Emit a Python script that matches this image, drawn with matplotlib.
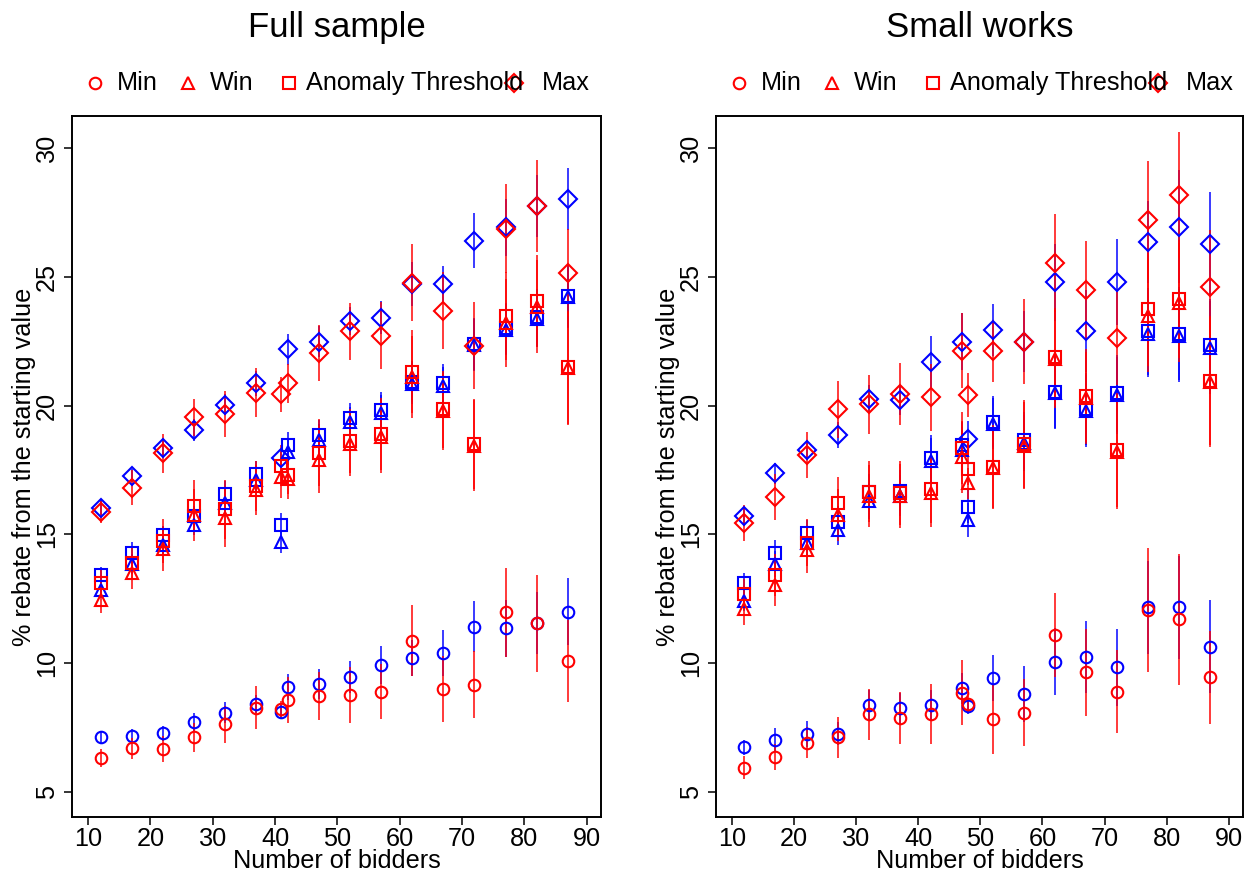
import matplotlib
matplotlib.use("Agg")
import matplotlib.pyplot as plt

plt.rcParams['font.family'] = ['Liberation Sans', 'DejaVu Sans']

# ---------------- data ----------------
x_full = [12, 17, 22, 27, 32, 37, 41, 42, 47, 52, 57, 62, 67, 72, 77, 82, 87]
x_small = [12, 17, 22, 27, 32, 37, 42, 47, 48, 52, 57, 62, 67, 72, 77, 82, 87]

x_ticks = [10, 20, 30, 40, 50, 60, 70, 80, 90]
y_ticks = [5, 10, 15, 20, 25, 30]

legend_labels = ["Min", "Win", "Anomaly Threshold", "Max"]
titles = ["Full sample", "Small works"]

# Full sample
full_blue_min = [7.12, 7.17, 7.27, 7.70, 8.07, 8.40, 8.11, 9.06, 9.19, 9.45, 9.93, 10.19, 10.38, 11.41, 11.35, 11.57, 12.00]
full_red_min = [6.30, 6.69, 6.65, 7.12, 7.62, 8.27, 8.22, 8.57, 8.72, 8.76, 8.89, 10.87, 8.99, 9.15, 11.97, 11.55, 10.09]
full_blue_min_err = [0.22, 0.25, 0.30, 0.35, 0.40, 0.35, 0.25, 0.50, 0.57, 0.62, 0.75, 0.70, 0.90, 1.00, 1.10, 1.20, 1.30]
full_red_min_err = [0.35, 0.40, 0.50, 0.57, 0.73, 0.83, 0.30, 0.90, 0.95, 1.10, 1.07, 1.37, 1.28, 1.30, 1.74, 1.88, 1.60]

full_blue_win = [12.84, 13.84, 14.59, 15.37, 16.23, 17.11, 14.72, 18.21, 18.67, 19.35, 19.70, 20.85, 20.75, 22.35, 22.95, 23.38, 24.20]
full_red_win = [12.45, 13.49, 14.42, 15.75, 15.65, 16.73, 17.22, 17.14, 17.89, 18.50, 18.80, 21.10, 19.78, 18.45, 23.20, 23.85, 21.45]
full_blue_thr = [13.42, 14.29, 14.98, 15.71, 16.56, 17.35, 15.37, 18.47, 18.86, 19.51, 19.82, 20.93, 20.87, 22.40, 23.00, 23.43, 24.27]
full_red_thr = [13.10, 13.88, 14.74, 16.10, 15.97, 16.88, 17.66, 17.31, 18.17, 18.63, 18.89, 21.32, 19.86, 18.51, 23.48, 24.07, 21.49]
full_blue_thr_err = [0.30, 0.40, 0.35, 0.40, 0.50, 0.50, 0.45, 0.50, 0.60, 0.60, 0.70, 0.80, 0.75, 1.00, 1.00, 1.10, 1.20]
full_red_thr_err = [0.50, 0.60, 0.85, 1.00, 1.15, 0.97, 0.80, 0.75, 1.30, 1.25, 1.40, 1.60, 1.50, 1.75, 1.70, 1.80, 2.20]

full_blue_max = [16.04, 17.27, 18.35, 19.06, 20.04, 20.86, 17.96, 22.19, 22.49, 23.28, 23.42, 24.73, 24.73, 26.41, 26.93, 27.75, 28.02]
full_red_max = [15.86, 16.81, 18.15, 19.54, 19.67, 20.50, 20.44, 20.87, 22.04, 22.88, 22.72, 24.78, 23.69, 22.33, 26.87, 27.76, 25.17]
full_blue_max_err = [0.30, 0.25, 0.30, 0.42, 0.40, 0.50, 0.30, 0.60, 0.60, 0.55, 0.65, 0.85, 0.70, 1.08, 1.10, 1.20, 1.20]
full_red_max_err = [0.42, 0.67, 0.75, 0.73, 0.90, 0.95, 0.68, 0.75, 1.10, 1.12, 1.30, 1.50, 1.50, 1.70, 1.72, 1.80, 1.70]

# Small works
small_blue_min = [6.73, 7.01, 7.23, 7.25, 8.37, 8.24, 8.37, 9.02, 8.33, 9.41, 8.80, 10.05, 10.25, 9.84, 12.17, 12.17, 10.64]
small_red_min = [5.93, 6.34, 6.91, 7.12, 8.01, 7.86, 8.02, 8.85, 8.41, 7.82, 8.07, 11.09, 9.64, 8.89, 12.06, 11.70, 9.45]
small_blue_min_err = [0.30, 0.45, 0.50, 0.45, 0.60, 0.60, 0.60, 0.60, 0.30, 0.90, 1.10, 1.30, 1.40, 1.50, 1.80, 2.00, 1.80]
small_red_min_err = [0.45, 0.50, 0.60, 0.80, 1.00, 1.00, 1.15, 1.25, 0.30, 1.35, 1.30, 1.65, 1.70, 1.60, 2.40, 2.55, 1.80]

small_blue_win = [12.42, 13.84, 14.65, 15.17, 16.31, 16.50, 17.85, 18.27, 15.56, 19.30, 18.55, 20.48, 19.80, 20.40, 22.80, 22.72, 22.25]
small_red_win = [12.09, 13.03, 14.39, 15.75, 16.50, 16.50, 16.60, 18.02, 16.98, 17.57, 18.45, 21.80, 20.30, 18.20, 23.50, 24.00, 20.90]
small_blue_thr = [13.10, 14.29, 15.04, 15.49, 16.66, 16.69, 17.96, 18.47, 16.08, 19.38, 18.65, 20.54, 19.86, 20.48, 22.88, 22.79, 22.36]
small_red_thr = [12.68, 13.42, 14.68, 16.23, 16.66, 16.60, 16.75, 18.35, 17.53, 17.63, 18.50, 21.90, 20.38, 18.28, 23.74, 24.15, 20.97]
small_blue_thr_err = [0.40, 0.50, 0.50, 0.60, 0.70, 0.80, 0.90, 0.90, 0.65, 1.00, 1.10, 1.40, 1.40, 1.50, 1.70, 1.80, 1.80]
small_red_thr_err = [0.60, 0.80, 0.90, 1.00, 1.20, 1.25, 1.30, 1.40, 0.60, 1.60, 1.70, 1.90, 1.80, 2.20, 2.20, 2.30, 2.50]

small_blue_max = [15.71, 17.37, 18.28, 18.86, 20.26, 20.22, 21.69, 22.49, 18.69, 22.94, 22.49, 24.79, 22.90, 24.79, 26.35, 26.95, 26.28]
small_red_max = [15.43, 16.44, 18.08, 19.86, 20.05, 20.46, 20.33, 22.14, 20.42, 22.12, 22.49, 25.53, 24.50, 22.62, 27.21, 28.19, 24.62]
small_blue_max_err = [0.30, 0.40, 0.40, 0.50, 0.55, 0.60, 1.00, 1.10, 0.70, 1.00, 1.20, 1.50, 1.60, 1.67, 1.60, 2.20, 2.00]
small_red_max_err = [0.70, 0.90, 0.90, 1.10, 1.15, 1.20, 1.30, 1.45, 0.85, 1.20, 1.65, 1.90, 1.90, 1.80, 2.30, 2.45, 2.20]

BLUE = "#0000FF"
RED = "#FF0000"

panels = [
    (x_full, {
        BLUE: [(full_blue_min, full_blue_min_err), (full_blue_win, full_blue_thr_err),
               (full_blue_thr, full_blue_thr_err), (full_blue_max, full_blue_max_err)],
        RED: [(full_red_min, full_red_min_err), (full_red_win, full_red_thr_err),
              (full_red_thr, full_red_thr_err), (full_red_max, full_red_max_err)],
    }),
    (x_small, {
        BLUE: [(small_blue_min, small_blue_min_err), (small_blue_win, small_blue_thr_err),
               (small_blue_thr, small_blue_thr_err), (small_blue_max, small_blue_max_err)],
        RED: [(small_red_min, small_red_min_err), (small_red_win, small_red_thr_err),
              (small_red_thr, small_red_thr_err), (small_red_max, small_red_max_err)],
    }),
]

markers = ['o', '^', 's', 'D']
msizes = [8.3, 9.0, 8.6, 8.8]

W, H = 1251, 876
fig = plt.figure(figsize=(W / 100, H / 100), dpi=100)

ax_px = [(72, 601), (716, 1243)]
top_px, bot_px = 116, 817

FS = 18.2

for i, ((xs, series), (l, r)) in enumerate(zip(panels, ax_px)):
    ax = fig.add_axes([l / W, 1 - bot_px / H, (r - l) / W, (bot_px - top_px) / H])
    for color in (BLUE, RED):
        for (vals, errs), m, ms in zip(series[color], markers, msizes):
            ax.errorbar(xs, vals, yerr=errs, fmt='none', ecolor=color,
                        elinewidth=1.35, alpha=0.8, capsize=0, zorder=2)
            ax.plot(xs, vals, linestyle='none', marker=m, markersize=ms,
                    markerfacecolor='none', markeredgecolor=color,
                    markeredgewidth=1.5, zorder=3)
    ax.set_xlim(7.42, 92.3)
    ax.set_ylim(4.02, 31.25)
    ax.set_xticks(x_ticks)
    ax.set_yticks(y_ticks)
    ax.tick_params(axis='both', direction='out', length=5.5, width=1.1,
                   labelsize=FS, colors='black')
    ax.tick_params(axis='x', pad=2)
    ax.tick_params(axis='y', pad=4)
    for lbl in ax.get_yticklabels():
        lbl.set_rotation(90)
        lbl.set_va('center')
    for sp in ax.spines.values():
        sp.set_linewidth(1.4)
    ax.set_xlabel("Number of bidders", fontsize=FS)
    ax.xaxis.set_label_coords(0.5, -(849 - bot_px) / (bot_px - top_px))
    ax.xaxis.label.set_va('top')
    ax.set_ylabel("% rebate from the starting value", fontsize=FS)
    ax.yaxis.set_label_coords(-(l - 36) / (r - l) if i == 0 else -(l - 680) / (r - l), 0.5)

    axw = r - l
    axh = bot_px - top_px
    ax.text(0.5, 1 + (116 - 37) / axh, titles[i], transform=ax.transAxes,
            ha='center', va='baseline', fontsize=25)

    # legend (red symbols, horizontal)
    leg_y = 1 + (116 - 83) / axh
    mk_off = [23, 116, 217, 442]
    tx_off = [45, 138, 234, 470]
    for m, ms, lab, mo, to in zip(markers, msizes, legend_labels, mk_off, tx_off):
        ax.plot([mo / axw], [leg_y], transform=ax.transAxes, clip_on=False,
                linestyle='none', marker=m, markersize=ms, markerfacecolor='none',
                markeredgecolor=RED, markeredgewidth=1.5)
        ax.text(to / axw, leg_y, lab, transform=ax.transAxes, ha='left',
                va='center', fontsize=FS)

fig.savefig("out.png", dpi=100)
